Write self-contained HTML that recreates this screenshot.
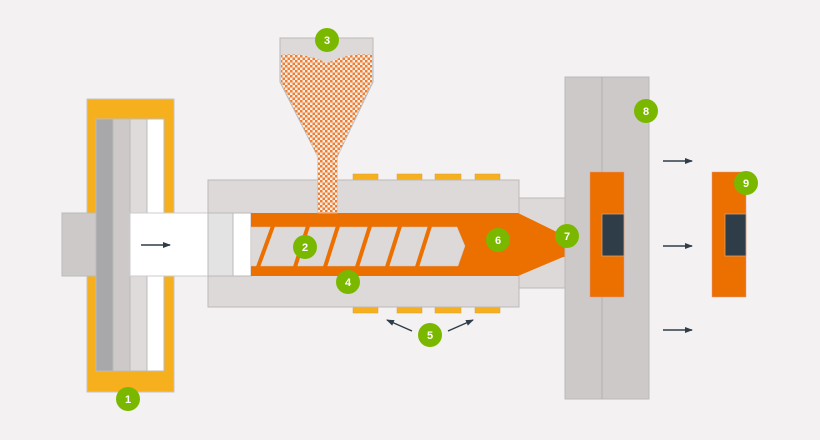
<!DOCTYPE html>
<html><head><meta charset="utf-8"><style>
html,body{margin:0;padding:0;background:#f3f1f2;}
svg{display:block}
text{font-family:"Liberation Sans",sans-serif;font-weight:bold;font-size:11px;fill:#fff;text-anchor:middle}
</style></head><body>
<svg width="820" height="440" viewBox="0 0 820 440" xmlns="http://www.w3.org/2000/svg">
<defs>
<pattern id="chk" width="5" height="5" patternUnits="userSpaceOnUse">
<rect width="5" height="5" fill="#f4eeea"/>
<rect width="2.5" height="2.5" fill="#ee7e30"/><rect x="2.5" y="2.5" width="2.5" height="2.5" fill="#ee7e30"/>
</pattern>
<marker id="ah" markerWidth="8" markerHeight="8" refX="7" refY="4" orient="auto" markerUnits="userSpaceOnUse"><path d="M0,1 L8,4 L0,7 z" fill="#2f3d48"/></marker>
</defs>
<rect width="820" height="440" fill="#f3f1f2"/>
<rect x="87" y="99" width="87" height="293" fill="#f6b01e" stroke="#c9c4c4" stroke-width="1"/>
<rect x="96" y="119" width="17" height="252" fill="#a8a7aa" stroke="#bbb" stroke-width="1"/>
<rect x="113" y="119" width="17" height="252" fill="#cdc9c9" stroke="#bbb" stroke-width="1"/>
<rect x="130" y="119" width="17" height="252" fill="#dedbda" stroke="#bbb" stroke-width="1"/>
<rect x="147" y="119" width="17" height="252" fill="#ffffff" stroke="#bbb" stroke-width="1"/>
<rect x="62" y="213" width="34" height="63" fill="#cdc9c9" stroke="#bbb" stroke-width="1"/>
<rect x="130" y="213" width="78" height="63" fill="#ffffff" stroke="#ccc" stroke-width="1"/>
<line x1="141" y1="245" x2="170" y2="245" stroke="#2f3d48" stroke-width="1.5" marker-end="url(#ah)"/>
<g fill="#f6b01e" stroke="#d9a040" stroke-width="0.5">
<rect x="353" y="174" width="25" height="6"/><rect x="397" y="174" width="25" height="6"/><rect x="435" y="174" width="26" height="6"/><rect x="475" y="174" width="25" height="6"/>
<rect x="353" y="307" width="25" height="6"/><rect x="397" y="307" width="25" height="6"/><rect x="435" y="307" width="26" height="6"/><rect x="475" y="307" width="25" height="6"/>
</g>
<rect x="518" y="198" width="47" height="90" fill="#dcd9d8" stroke="#bdb9b9" stroke-width="1"/>
<rect x="208" y="180" width="311" height="127" fill="#dcd9d8" stroke="#bdb9b9" stroke-width="1"/>
<rect x="208" y="213" width="25" height="63" fill="#e3e3e3" stroke="#bdb9b9" stroke-width="1"/>
<rect x="233" y="213" width="18" height="63" fill="#fff" stroke="#bdb9b9" stroke-width="1"/>
<path d="M251,213 L518,213 L563,235 L565,235 L565,257 L563,257 L518,276 L251,276 z" fill="#ec7000"/>
<path d="M251,227 L457,227 L465,246 L458,266 L251,266 z" fill="#dcd9d8" stroke="#c8c3c2" stroke-width="0.5"/>
<g stroke="#ec7000" stroke-width="4">
<line x1="258" y1="267" x2="273" y2="226"/><line x1="295" y1="267" x2="308" y2="226"/><line x1="325" y1="267" x2="338" y2="226"/>
<line x1="357" y1="267" x2="370" y2="226"/><line x1="387" y1="267" x2="400" y2="226"/><line x1="417" y1="267" x2="430" y2="226"/>
</g>
<path d="M280,38 L373,38 L373,82 L337,157 L337,213 L318,213 L318,157 L280,82 z" fill="#dcd9d8" stroke="#bdb9b9" stroke-width="1"/>
<path d="M281,55 Q304,52 327,63 Q350,52 372,55 L372,82 L337,157 L337,213 L318,213 L318,157 L281,82 z" fill="url(#chk)"/>
<rect x="565" y="77" width="84" height="322" fill="#cdc9c9" stroke="#bdb9b9" stroke-width="1"/>
<line x1="602" y1="77" x2="602" y2="399" stroke="#b5b1b1" stroke-width="1"/>
<rect x="590" y="172" width="34" height="125" fill="#ec7000" stroke="#d99" stroke-width="0.5"/>
<rect x="602" y="214" width="22" height="42" fill="#2f3d48" stroke="#d6a070" stroke-width="0.8"/>
<rect x="712" y="172" width="34" height="125" fill="#ec7000" stroke="#d99" stroke-width="0.5"/>
<rect x="725" y="214" width="21" height="42" fill="#2f3d48" stroke="#d6a070" stroke-width="0.8"/>
<g stroke="#2f3d48" stroke-width="1.5">
<line x1="663" y1="161" x2="692" y2="161" marker-end="url(#ah)"/>
<line x1="663" y1="246" x2="692" y2="246" marker-end="url(#ah)"/>
<line x1="663" y1="330" x2="692" y2="330" marker-end="url(#ah)"/>
<line x1="412" y1="331" x2="387" y2="320" marker-end="url(#ah)"/>
<line x1="448" y1="331" x2="473" y2="320" marker-end="url(#ah)"/>
</g>
<g fill="#7ab800">
<circle cx="128" cy="399" r="12"/><circle cx="305" cy="247" r="12"/><circle cx="327" cy="40" r="12"/>
<circle cx="348" cy="282" r="12"/><circle cx="430" cy="335" r="12"/><circle cx="498" cy="240" r="12"/>
<circle cx="567" cy="236" r="12"/><circle cx="646" cy="111" r="12"/><circle cx="746" cy="183" r="12"/>
</g>
<text x="128" y="403">1</text><text x="305" y="251">2</text><text x="327" y="44">3</text>
<text x="348" y="286">4</text><text x="430" y="339">5</text><text x="498" y="244">6</text>
<text x="567" y="240">7</text><text x="646" y="115">8</text><text x="746" y="187">9</text>
</svg>
</body></html>
